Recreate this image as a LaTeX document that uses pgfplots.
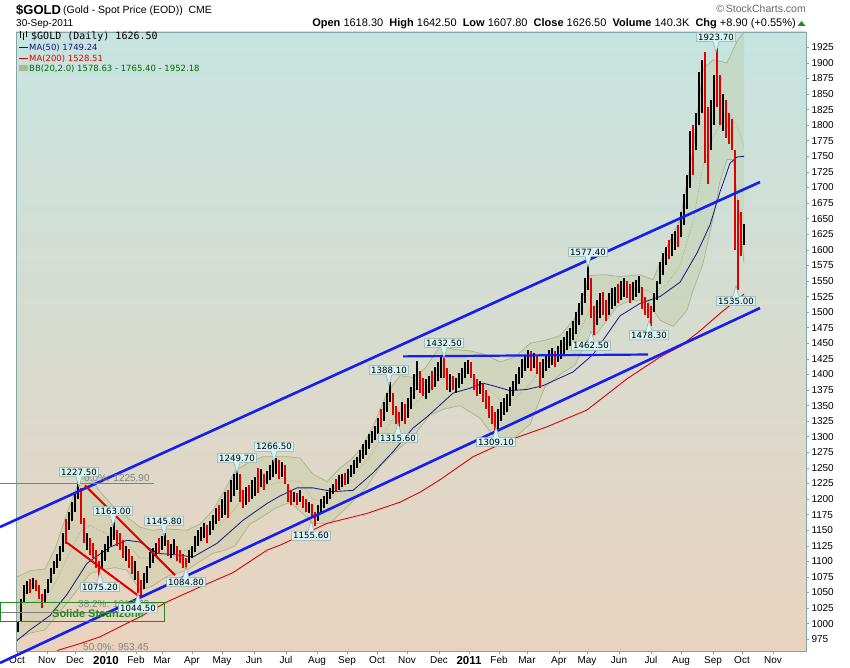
\documentclass[border=0pt]{standalone}
\usepackage{fontspec}
\setmainfont{Liberation Sans}
\newfontfamily\dvs{DejaVu Sans}
\newfontfamily\dvm{DejaVu Sans Mono}
\usepackage{pgfplots}
\usepackage{pgfplotstable}
\pgfplotsset{compat=1.18}
\usepgfplotslibrary{fillbetween}
\usetikzlibrary{shapes.callouts}
\definecolor{bgtop}{RGB}{198,228,224}
\definecolor{bgmid}{RGB}{238,228,180}
\definecolor{bgbot}{RGB}{234,211,190}
\definecolor{chanblue}{RGB}{20,30,240}
\definecolor{manavy}{RGB}{20,20,130}
\definecolor{bbline}{RGB}{165,182,135}
\definecolor{bbfill}{RGB}{185,200,150}
\definecolor{callfill}{RGB}{215,242,242}
\definecolor{callborder}{RGB}{140,170,170}
\definecolor{framec}{RGB}{130,165,165}
\definecolor{barred}{RGB}{225,0,0}
\definecolor{boxgreen}{RGB}{30,140,30}

% price bars: x = time index (chart column), low, high
\pgfplotstableread{
x lo hi
18 986 1005
21 1005 1040
24 1035 1062
27 1048 1068
33 1055 1074
45 1035 1055
48 1050 1072
51 1065 1090
54 1080 1100
57 1090 1112
60 1100 1125
63 1115 1145
69 1150 1180
72 1165 1195
75 1180 1212
78 1200 1227
87 1118 1145
102 1090 1118
105 1100 1128
108 1115 1140
111 1125 1155
114 1135 1163
126 1100 1125
135 1070 1100
144 1055 1082
147 1065 1092
150 1090 1115
153 1098 1122
156 1108 1130
162 1118 1140
165 1125 1146
171 1105 1128
174 1112 1136
189 1098 1118
192 1105 1125
195 1115 1140
198 1125 1150
201 1132 1155
204 1138 1162
210 1142 1165
213 1150 1175
216 1160 1185
222 1170 1200
225 1175 1212
231 1195 1230
234 1205 1240
237 1215 1250
246 1190 1220
252 1200 1230
255 1205 1235
261 1220 1248
267 1225 1245
270 1230 1255
273 1235 1262
276 1240 1266
282 1235 1260
294 1195 1212
300 1195 1215
309 1178 1195
318 1165 1190
321 1178 1200
324 1185 1205
327 1192 1212
330 1200 1218
333 1208 1225
339 1215 1238
342 1220 1240
348 1225 1248
351 1235 1255
354 1240 1262
357 1250 1268
360 1258 1278
363 1265 1288
366 1270 1295
369 1280 1305
372 1290 1310
375 1295 1318
378 1305 1330
384 1325 1355
387 1340 1370
390 1355 1388
402 1325 1355
408 1330 1362
411 1345 1380
414 1360 1400
417 1375 1422
426 1360 1392
429 1370 1398
435 1380 1412
438 1390 1420
441 1395 1430
450 1372 1400
456 1370 1395
459 1378 1402
462 1385 1410
465 1395 1420
468 1400 1424
480 1368 1390
498 1312 1345
501 1325 1355
504 1335 1362
507 1340 1368
510 1350 1380
513 1365 1390
516 1375 1400
519 1385 1412
522 1395 1425
525 1405 1432
528 1410 1440
534 1410 1435
543 1395 1425
546 1405 1432
549 1410 1440
552 1415 1442
558 1420 1445
561 1425 1455
564 1430 1460
567 1440 1470
570 1445 1475
573 1455 1485
576 1465 1500
579 1480 1515
582 1495 1530
585 1515 1555
588 1535 1577
597 1480 1520
600 1490 1530
609 1495 1530
612 1505 1538
615 1510 1540
621 1520 1550
624 1525 1555
633 1520 1548
636 1525 1552
639 1530 1558
654 1500 1530
657 1520 1550
660 1545 1580
663 1560 1595
666 1575 1605
672 1590 1625
675 1600 1630
681 1620 1660
684 1640 1690
687 1665 1720
690 1700 1790
696 1760 1820
699 1800 1885
702 1820 1905
711 1760 1840
714 1800 1880
723 1790 1850
744 1608 1642
}\upbars

\pgfplotstableread{
x lo hi
30 1050 1072
36 1052 1070
39 1040 1062
42 1026 1048
66 1128 1168
81 1160 1218
84 1130 1170
90 1110 1138
93 1105 1130
96 1090 1118
99 1075 1100
117 1125 1150
120 1118 1145
123 1105 1135
129 1090 1120
132 1080 1108
138 1050 1085
141 1044 1070
159 1112 1138
168 1108 1135
177 1100 1125
180 1098 1118
183 1090 1112
186 1085 1105
207 1130 1158
219 1165 1190
228 1170 1215
240 1195 1240
243 1185 1215
249 1195 1222
258 1210 1250
264 1215 1240
279 1232 1262
285 1225 1255
288 1195 1225
291 1190 1215
297 1190 1210
303 1185 1205
306 1180 1200
312 1172 1192
315 1156 1180
336 1212 1232
345 1222 1242
381 1315 1345
393 1335 1370
396 1320 1350
399 1316 1340
405 1320 1352
420 1370 1405
423 1365 1395
432 1375 1405
444 1395 1432
447 1375 1410
453 1375 1398
471 1395 1420
474 1375 1400
477 1365 1392
483 1355 1385
486 1345 1375
489 1330 1365
492 1320 1350
495 1310 1340
531 1405 1438
537 1400 1430
540 1378 1420
555 1412 1438
591 1490 1555
594 1463 1510
603 1495 1532
606 1485 1520
618 1515 1545
627 1522 1550
630 1515 1545
642 1505 1540
645 1495 1525
648 1490 1515
651 1478 1510
669 1585 1615
678 1605 1640
693 1720 1800
705 1740 1917
708 1705 1830
717 1830 1924
720 1800 1880
726 1780 1840
729 1770 1820
732 1760 1810
735 1600 1760
738 1535 1680
741 1590 1660
}\downbars

\pgfplotstableread{
x y
17 1075
30 1085
45 1088
55 1120
67 1177
80 1233
90 1235
100 1212
115 1185
127 1171
140 1155
152 1150
167 1152
187 1150
200 1160
213 1182
225 1215
235 1245
250 1260
263 1268
287 1268
300 1266
313 1240
327 1228
340 1250
350 1262
360 1279
373 1316
387 1370
400 1398
413 1395
425 1410
440 1445
455 1440
470 1438
485 1432
500 1420
515 1428
530 1450
545 1455
560 1462
575 1490
590 1559
605 1560
620 1557
640 1560
653 1552
667 1605
680 1648
693 1760
703 1890
713 1905
727 1900
737 1935
744 1949
}\bbup

\pgfplotstableread{
x y
17 975
30 985
45 990
55 1010
67 1033
80 1060
90 1080
100 1086
115 1090
127 1086
140 1054
152 1060
167 1076
187 1086
200 1100
213 1113
225 1118
235 1125
250 1160
263 1172
275 1185
290 1195
307 1171
313 1161
330 1161
347 1187
367 1220
380 1252
393 1273
413 1300
430 1335
445 1345
460 1350
480 1330
495 1298
510 1292
530 1320
545 1380
560 1400
575 1415
587 1455
597 1466
617 1509
630 1519
647 1519
660 1487
673 1477
687 1503
693 1535
703 1578
713 1650
720 1710
727 1745
733 1745
737 1690
744 1579
}\bblo

\pgfplotstableread{
x y
17 1025
30 1035
45 1039
55 1065
67 1105
80 1147
90 1158
100 1149
115 1138
127 1129
140 1105
152 1105
167 1114
187 1118
200 1130
213 1148
225 1167
235 1185
250 1210
263 1220
287 1230
300 1228
313 1200
327 1195
340 1215
350 1230
360 1250
373 1275
387 1315
400 1345
413 1350
425 1370
440 1392
455 1395
470 1392
485 1380
500 1360
515 1360
530 1385
545 1418
560 1430
575 1452
590 1505
605 1520
620 1533
640 1540
653 1530
667 1545
680 1575
693 1645
703 1735
713 1780
727 1822
737 1800
744 1765
}\bbmid

\pgfplotstableread{
x y
17 973
30 990
50 1013
67 1047
87 1097
110 1123
127 1134
140 1131
157 1113
180 1110
193 1107
217 1129
243 1166
267 1193
280 1205
297 1218
313 1218
333 1212
353 1214
373 1242
393 1276
413 1314
427 1332
453 1370
470 1378
483 1386
493 1382
510 1374
527 1376
543 1382
573 1404
593 1432
620 1494
640 1514
660 1525
680 1548
697 1595
710 1640
720 1693
730 1739
737 1749
744 1750
}\mafifty

\pgfplotstableread{
x y
57 957
80 968
100 979
140 1011
167 1035
200 1059
233 1082
267 1118
280 1126
327 1161
367 1177
400 1195
420 1211
440 1231
473 1268
510 1295
547 1316
587 1343
627 1393
660 1428
680 1445
700 1470
720 1498
744 1529
}\matwohundred

\tikzset{
  cdn/.style={rectangle callout, callout relative pointer={(0pt,-10.5pt)},
    callout pointer width=6pt, fill=callfill, draw=callborder, line width=0.5pt,
    inner xsep=1.6pt, inner ysep=1.4pt, font=\dvs\fontsize{8.6}{9.5}\selectfont},
  cup/.style={cdn, callout relative pointer={(0pt,10.5pt)}}
}

\begin{document}
\begin{tikzpicture}[x=1pt,y=1pt]
\path (0,0) rectangle (850,668);
\begin{axis}[
  at={(16pt,17pt)}, anchor=south west,
  scale only axis, width=790pt, height=619pt,
  xmin=16, xmax=806, ymin=956.2, ymax=1949.6,
  clip=false,
  axis background/.style={shade, top color=bgtop, middle color=bgmid, bottom color=bgbot},
  axis line style={framec, line width=0.8pt},
  tick style={framec, line width=0.6pt},
  tick align=outside, major tick length=3pt,
  xtick pos=left, ytick pos=right, yticklabel pos=right,
  ytick={975,1000,...,1925},
  yticklabel style={font=\fontsize{10}{12}\selectfont, xshift=-1pt},
  /pgf/number format/assume math mode=true,
  /pgf/number format/1000 sep={},
  xtick={17,47,75,106,136,162,192,222,254,286,317,347,377,407,439,469,499,527,559,587,619,651,681,713,742,773},
  xticklabels={Oct,Nov,Dec,{\fontsize{11.5}{12}\selectfont\bfseries 2010},Feb,Mar,Apr,May,Jun,Jul,Aug,Sep,Oct,Nov,Dec,{\fontsize{11.5}{12}\selectfont\bfseries 2011},Feb,Mar,Apr,May,Jun,Jul,Aug,Sep,Oct,Nov},
  xticklabel style={font=\fontsize{10}{12}\selectfont, yshift=1pt},
]
% Bollinger bands
\addplot[name path=bbu, bbline, line width=0.7pt] table {\bbup};
\addplot[name path=bbl, bbline, line width=0.7pt] table {\bblo};
\addplot[bbfill, fill opacity=0.3, draw=none] fill between[of=bbu and bbl];
\addplot[bbline!80!gray, line width=0.6pt, densely dotted] table {\bbmid};
% moving averages
\addplot[barred, line width=0.9pt] table {\matwohundred};
\addplot[manavy, line width=0.8pt] table {\mafifty};
% price bars
\addplot[draw=none, mark=none,
  error bars/.cd, y dir=plus, y explicit, error mark=none,
  error bar style={draw=black, line width=1.9pt}]
  table[x=x, y=lo, y error expr=\thisrow{hi}-\thisrow{lo}] {\upbars};
\addplot[draw=none, mark=none,
  error bars/.cd, y dir=plus, y explicit, error mark=none,
  error bar style={draw=barred, line width=1.9pt}]
  table[x=x, y=lo, y error expr=\thisrow{hi}-\thisrow{lo}] {\downbars};
% trend channel
\addplot[chanblue, line width=2.6pt] coordinates {(0,1155.2) (760,1708.8)};
\addplot[chanblue, line width=2.6pt] coordinates {(0,937) (760,1506.6)};
\addplot[chanblue, line width=2.2pt] coordinates {(403,1429) (648,1432)};
% red down channel
\addplot[barred, line width=2pt] coordinates {(85,1222) (175,1078)};
\addplot[barred, line width=2pt] coordinates {(67,1130) (140,1043)};
% fibonacci lines
\addplot[gray, line width=0.8pt] coordinates {(0,1225.9) (154,1225.9)};
\addplot[gray, line width=0.8pt] coordinates {(0,1017.7) (153,1017.7)};
\node[anchor=west, inner sep=0, text=gray, font=\fontsize{10}{12}\selectfont] at (axis cs:84,1233) {0.0\%: 1225.90};
\node[anchor=west, inner sep=0, text=gray, font=\fontsize{10}{12}\selectfont] at (axis cs:78,1031) {38.2\%: 1017.73};
\node[anchor=west, inner sep=0, text=gray, font=\fontsize{10}{12}\selectfont] at (axis cs:83,962) {50.0\%: 953.45};
% support box
\draw[boxgreen, line width=0.8pt] (axis cs:0,1003) rectangle (axis cs:164,1033.6);
\node[text=boxgreen, font=\bfseries\fontsize{11}{12}\selectfont, inner sep=0] at (axis cs:98,1016) {Solide Steunzone};
% callouts
\node[cdn] at (axis cs:79,1243.5) {1227.50};
\node[cdn] at (axis cs:113,1181) {1163.00};
\node[cdn] at (axis cs:164,1165) {1145.80};
\node[cup] at (axis cs:100,1059) {1075.20};
\node[cup] at (axis cs:186,1067) {1084.80};
\node[cup] at (axis cs:138,1025) {1044.50};
\node[cdn] at (axis cs:237,1266) {1249.70};
\node[cdn] at (axis cs:274,1284) {1266.50};
\node[cup] at (axis cs:311,1141) {1155.60};
\node[cdn] at (axis cs:389,1407) {1388.10};
\node[cup] at (axis cs:398,1298) {1315.60};
\node[cdn] at (axis cs:444,1450.5) {1432.50};
\node[cup] at (axis cs:496,1291.6) {1309.10};
\node[cup] at (axis cs:591,1446) {1462.50};
\node[cup] at (axis cs:649,1463) {1478.30};
\node[cdn] at (axis cs:588,1596.5) {1577.40};
\node[cdn] at (axis cs:716,1941.5) {1923.70};
\node[cup] at (axis cs:736,1518) {1535.00};
\end{axis}
% header
\node[anchor=base west, inner sep=0, font=\bfseries\fontsize{13}{15}\selectfont] at (16,653) {\$GOLD};
\node[anchor=base west, inner sep=0, font=\fontsize{10.5}{12}\selectfont] at (63,654) {(Gold - Spot Price (EOD))\ \ CME};
\node[anchor=base west, inner sep=0, font=\fontsize{10}{12}\selectfont] at (16,641) {30-Sep-2011};
\node[anchor=base east, inner sep=0, font=\fontsize{11}{13}\selectfont] at (796,641)
  {\textbf{Open} 1618.30\ \ \textbf{High} 1642.50\ \ \textbf{Low} 1607.80\ \ \textbf{Close} 1626.50\ \ \textbf{Volume} 140.3K\ \ \textbf{Chg} +8.90 (+0.55\%)};
\fill[boxgreen] (797.5,642) -- (805.5,642) -- (801.5,647) -- cycle;
\node[anchor=base east, inner sep=0, text=black!60, font=\fontsize{10.5}{12}\selectfont] at (806,655) {\textcopyright\,StockCharts.com};
% legend
\draw[black, line width=1pt] (20,630) -- (20,637) (23,628) -- (23,635) (26,631) -- (26,637);
\node[anchor=base west, inner sep=0, font=\dvm\fontsize{10}{12}\selectfont] at (31,628) {\$GOLD (Daily) 1626.50};
\draw[manavy, line width=1.6pt] (19,620.5) -- (28,620.5);
\node[anchor=base west, inner sep=0, text=manavy, font=\dvs\fontsize{8.5}{10}\selectfont] at (29,617) {MA(50) 1749.24};
\draw[barred, line width=1.6pt] (19,609.5) -- (28,609.5);
\node[anchor=base west, inner sep=0, text=barred, font=\dvs\fontsize{8.5}{10}\selectfont] at (29,606) {MA(200) 1528.51};
\fill[bbfill!80!gray] (19,597) rectangle (28,603);
\node[anchor=base west, inner sep=0, text=green!40!black, font=\dvs\fontsize{8.5}{10}\selectfont] at (29,596) {BB(20,2.0) 1578.63 - 1765.40 - 1952.18};
\pgfresetboundingbox
\path[use as bounding box] (0,0) rectangle (850,668);
\end{tikzpicture}
\end{document}
